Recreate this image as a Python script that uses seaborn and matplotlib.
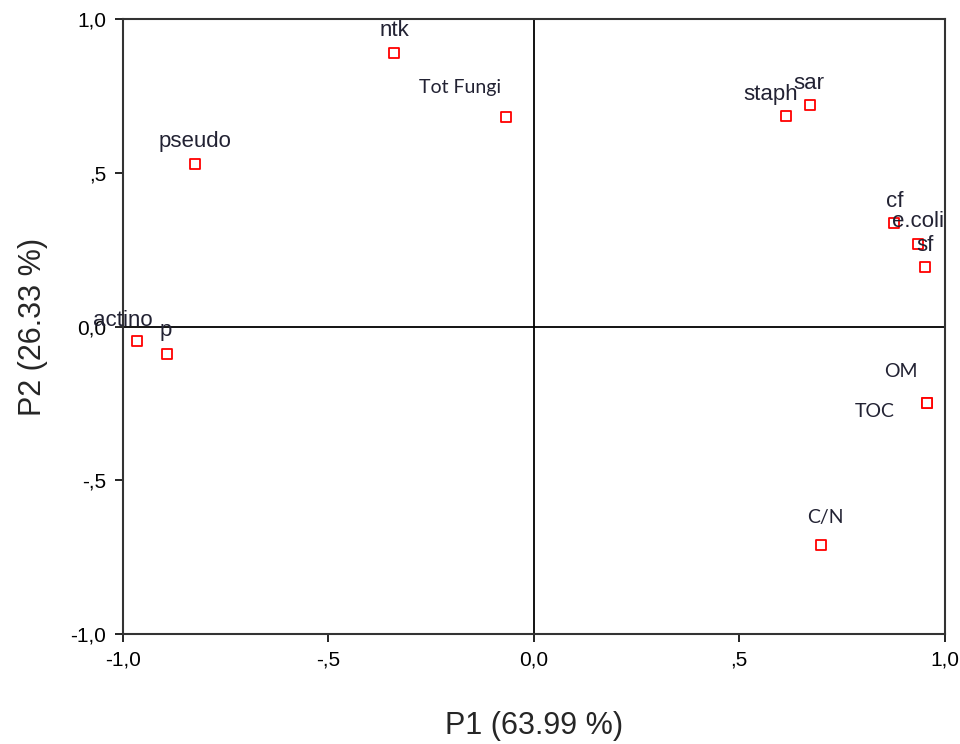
import pandas as pd
import matplotlib.pyplot as plt
import seaborn as sns

# PCA loadings
variables = ['ntk', 'Tot Fungi', 'pseudo', 'staph', 'sar', 'cf', 'e.coli', 'sf',
             'actino', 'p', 'OM', 'TOC', 'C/N']
p1 = [-0.34, -0.068, -0.825, 0.613, 0.672, 0.876, 0.934, 0.953,
      -0.966, -0.893, 0.958, 0.958, 0.700]
p2 = [0.892, 0.682, 0.529, 0.686, 0.720, 0.336, 0.270, 0.193,
      -0.048, -0.090, -0.250, -0.250, -0.710]

x_ticks = [-1.0, -0.5, 0.0, 0.5, 1.0]
x_ticklabels = ['-1,0', '-,5', '0,0', ',5', '1,0']
y_ticks = [-1.0, -0.5, 0.0, 0.5, 1.0]
y_ticklabels = ['-1,0', '-,5', '0,0', ',5', '1,0']

df = pd.DataFrame({'var': variables, 'P1': p1, 'P2': p2})

# label offsets in points (text centre relative to marker) and font
label_style = {
    'ntk': ((0, 16), 'Liberation Sans', 16),
    'Tot Fungi': ((-33, 21), 'Lato', 14),
    'pseudo': ((0, 16), 'Liberation Sans', 16),
    'staph': ((-11, 15), 'Liberation Sans', 16),
    'sar': ((-1, 16), 'Liberation Sans', 16),
    'cf': ((1, 16), 'Liberation Sans', 16),
    'e.coli': ((0, 16), 'Liberation Sans', 16),
    'sf': ((0, 16), 'Liberation Sans', 16),
    'actino': ((-10, 15), 'Liberation Sans', 16),
    'p': ((-1, 17), 'Liberation Sans', 16),
    'OM': ((-19, 23), 'Lato', 14),
    'TOC': ((-38, -6), 'Lato', 14),
    'C/N': ((3, 20), 'Lato', 14),
}

sns.set_style('white')
plt.rcParams['font.family'] = ['Liberation Sans', 'DejaVu Sans']

fig = plt.figure(figsize=(9.6, 7.44), dpi=100)
ax = fig.add_axes([0.128, 0.148, 0.856, 0.826])

ax.axhline(0, color='black', linewidth=1.3, zorder=1)
ax.axvline(0, color='black', linewidth=1.3, zorder=1)

sns.scatterplot(data=df, x='P1', y='P2', marker='s', s=42, facecolor='white',
                edgecolor='red', linewidth=1.3, ax=ax, zorder=3)

for _, row in df.iterrows():
    off, fam, fs = label_style[row['var']]
    ax.annotate(row['var'], (row['P1'], row['P2']), xytext=off,
                textcoords='offset points', ha='center', va='center',
                fontsize=fs, family=fam, color='#222233', zorder=4)

ax.set_xlim(-1.0, 1.0)
ax.set_ylim(-1.0, 1.0)
ax.set_xticks(x_ticks)
ax.set_xticklabels(x_ticklabels)
ax.set_yticks(y_ticks)
ax.set_yticklabels(y_ticklabels)
ax.tick_params(direction='out', length=6, width=1.2, colors='black',
               labelsize=15, pad=6, bottom=True, left=True)
for sp in ax.spines.values():
    sp.set_color('#333333')
    sp.set_linewidth(1.5)

ax.set_xlabel('P1 (63.99 %)', fontsize=22, labelpad=30)
ax.set_ylabel('P2 (26.33 %)', fontsize=22, labelpad=16)

plt.savefig('out.png', dpi=100)
